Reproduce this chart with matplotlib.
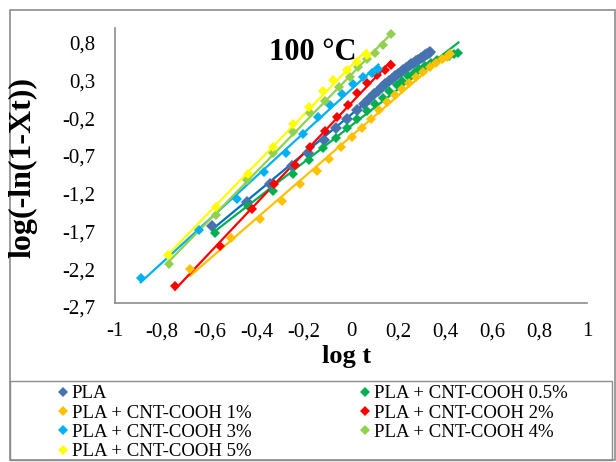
"""Avrami plot, log(-ln(1-Xt)) vs log t at 100 °C, for PLA and PLA/CNT-COOH blends."""

import matplotlib
matplotlib.use("Agg")
import matplotlib.pyplot as plt
import matplotlib.transforms as mtransforms
import numpy as np
from matplotlib.lines import Line2D
from matplotlib.patches import Rectangle

plt.rcParams["font.family"] = ["Liberation Serif", "DejaVu Serif"]

# --- data (log t, log(-ln(1-Xt))) ---
pla_x = [-0.590, -0.442, -0.343, -0.251, -0.181, -0.114, -0.064, -0.018, 0.024,
         0.055, 0.078, 0.098, 0.115, 0.131, 0.146, 0.160, 0.173, 0.186, 0.198,
         0.210, 0.222, 0.233, 0.244, 0.255, 0.265, 0.275, 0.285, 0.295, 0.304,
         0.313, 0.322, 0.330, 0.336]
pla_y = [-1.68, -1.36, -1.12, -0.88, -0.71, -0.54, -0.39, -0.27, -0.15,
         -0.07, 0.00, 0.06, 0.11, 0.16, 0.20, 0.24, 0.27, 0.30, 0.33,
         0.36, 0.39, 0.41, 0.44, 0.46, 0.48, 0.50, 0.52, 0.54, 0.56,
         0.58, 0.60, 0.61, 0.62]

c05_x = [-0.576, -0.435, -0.329, -0.244, -0.177, -0.117, -0.064, -0.016, 0.027,
         0.066, 0.102, 0.134, 0.162, 0.193, 0.215, 0.240, 0.265, 0.290, 0.315,
         0.340, 0.365, 0.390, 0.415, 0.435, 0.455]
c05_y = [-1.77, -1.41, -1.22, -0.99, -0.81, -0.65, -0.52, -0.38, -0.27,
         -0.16, -0.06, 0.01, 0.10, 0.18, 0.24, 0.30, 0.35, 0.40, 0.44,
         0.48, 0.51, 0.54, 0.57, 0.59, 0.61]

c1_x = [-0.682, -0.510, -0.386, -0.294, -0.216, -0.145, -0.092, -0.044, 0.006,
        0.048, 0.083, 0.120, 0.154, 0.186, 0.215, 0.245, 0.275, 0.305, 0.335,
        0.360, 0.385, 0.405, 0.420]
c1_y = [-2.25, -1.84, -1.59, -1.35, -1.13, -0.95, -0.79, -0.63, -0.50,
        -0.38, -0.26, -0.14, -0.04, 0.05, 0.13, 0.21, 0.29, 0.36, 0.43,
        0.48, 0.53, 0.56, 0.59]

c2_x = [-0.746, -0.555, -0.421, -0.326, -0.237, -0.174, -0.110, -0.058, -0.011,
        0.027, 0.066, 0.109, 0.144, 0.168]
c2_y = [-2.47, -1.95, -1.46, -1.13, -0.87, -0.64, -0.42, -0.24, -0.08,
        0.08, 0.21, 0.32, 0.39, 0.45]

c3_x = [-0.891, -0.643, -0.484, -0.369, -0.275, -0.205, -0.138, -0.089, -0.039,
        0.010, 0.052, 0.088, 0.116]
c3_y = [-2.37, -1.73, -1.33, -0.97, -0.71, -0.46, -0.24, -0.08, 0.07,
        0.20, 0.29, 0.34, 0.40]

c4_x = [-0.770, -0.572, -0.442, -0.329, -0.247, -0.174, -0.110, -0.050, -0.004,
        0.031, 0.066, 0.102, 0.134, 0.168]
c4_y = [-2.18, -1.54, -1.07, -0.72, -0.43, -0.19, -0.02, 0.16, 0.29,
        0.43, 0.53, 0.61, 0.71, 0.86]

c5_x = [-0.774, -0.572, -0.438, -0.332, -0.246, -0.179, -0.117, -0.075, -0.018,
        0.027, 0.066]
c5_y = [-2.06, -1.43, -0.99, -0.64, -0.33, -0.11, 0.10, 0.25, 0.38,
        0.49, 0.58]

labels = ["PLA", "PLA + CNT-COOH 0.5%", "PLA + CNT-COOH 1%", "PLA + CNT-COOH 2%",
          "PLA + CNT-COOH 3%", "PLA + CNT-COOH 4%", "PLA + CNT-COOH 5%"]
series = [(pla_x, pla_y), (c05_x, c05_y), (c1_x, c1_y), (c2_x, c2_y),
          (c3_x, c3_y), (c4_x, c4_y), (c5_x, c5_y)]

x_ticks = [-1, -0.8, -0.6, -0.4, -0.2, 0, 0.2, 0.4, 0.6, 0.8, 1]
x_ticklabels = ["-1", "-0,8", "-0,6", "-0,4", "-0,2", "0", "0,2", "0,4", "0,6", "0,8", "1"]
y_ticks = [0.8, 0.3, -0.2, -0.7, -1.2, -1.7, -2.2, -2.7]
y_ticklabels = ["0,8", "0,3", "-0,2", "-0,7", "-1,2", "-1,7", "-2,2", "-2,7"]

# Excel-ish palette: marker colour, trendline colour
MARKER_COLORS = ["#4672B0", "#00B050", "#FFC000", "#FF0000", "#00B0F0", "#92D050", "#FFFF00"]
LINE_COLORS = ["#0070C0", "#00B050", "#FFC000", "#FF0000", "#00B0F0", "#92D050", "#FFFF00"]
MARKER_SIZES = [6.6, 5.3, 5.3, 5.3, 5.3, 5.3, 5.3]
AXIS_GREY = "#8C8C8C"

W, H = 616, 462
fig = plt.figure(figsize=(W / 100, H / 100), dpi=100)
ax = fig.add_axes([115 / W, 1 - 303 / H, 472 / W, 275 / H])

for (xs, ys), mc, lc, ms in zip(series, MARKER_COLORS, LINE_COLORS, MARKER_SIZES):
    xs, ys = np.asarray(xs), np.asarray(ys)
    # linear trendline over the data range, like Excel's
    k, b = np.polyfit(xs, ys, 1)
    xr = np.array([xs.min(), xs.max()])
    ax.plot(xr, k * xr + b, color=lc, linewidth=1.6, zorder=2)
    ax.plot(xs, ys, linestyle="none", marker="D", markersize=ms,
            markerfacecolor=mc, markeredgewidth=0, zorder=3)

ax.set_xlim(-1, 1)
ax.set_ylim(-2.7, 0.94)
ax.set_xticks(x_ticks, x_ticklabels)
ax.set_yticks(y_ticks, y_ticklabels)
ax.tick_params(length=0, labelsize=15, pad=14)
# Excel draws the value labels a few pixels below their gridline position
shift = mtransforms.ScaledTranslation(0, -4 / 100, fig.dpi_scale_trans)
for lab in ax.get_yticklabels():
    lab.set_transform(lab.get_transform() + shift)
for side in ("top", "right"):
    ax.spines[side].set_visible(False)
for side in ("left", "bottom"):
    ax.spines[side].set_color(AXIS_GREY)
    ax.spines[side].set_linewidth(1.2)

ax.text(0.418, 0.91, "100 °C", transform=ax.transAxes,
        ha="center", va="center", fontsize=22, fontweight="bold")

fig.text(347 / W, 1 - 357 / H, "log t", ha="center", va="center",
         fontsize=19, fontweight="bold")
fig.text(23 / W, 1 - 167 / H, "log(-ln(1-Xt))", ha="center", va="center",
         rotation=90, fontsize=23, fontweight="bold")

# outer chart border and legend box
fig.patches.append(Rectangle((10 / W, 2 / H), 605 / W, 450 / H, transform=fig.transFigure,
                             fill=False, edgecolor=AXIS_GREY, linewidth=1.2))
fig.patches.append(Rectangle((10 / W, 2 / H), 602 / W, 79 / H, transform=fig.transFigure,
                             fill=False, edgecolor=AXIS_GREY, linewidth=1.0))

handles = [Line2D([], [], linestyle="none", marker="D", markersize=4.6,
                  markerfacecolor=c, markeredgewidth=0) for c in MARKER_COLORS]
cols = [[0, 2, 4, 6], [1, 3, 5]]
for idx, x0 in zip(cols, (55, 357)):
    fig.legend([handles[i] for i in idx], [labels[i] for i in idx],
               loc="upper left", bbox_to_anchor=(x0 / W, 1 - 385 / H),
               frameon=False, fontsize=13.5, handlelength=0.9, handletextpad=0.0,
               labelspacing=0.12, borderpad=0, borderaxespad=0)

fig.savefig("out.png", dpi=100)
